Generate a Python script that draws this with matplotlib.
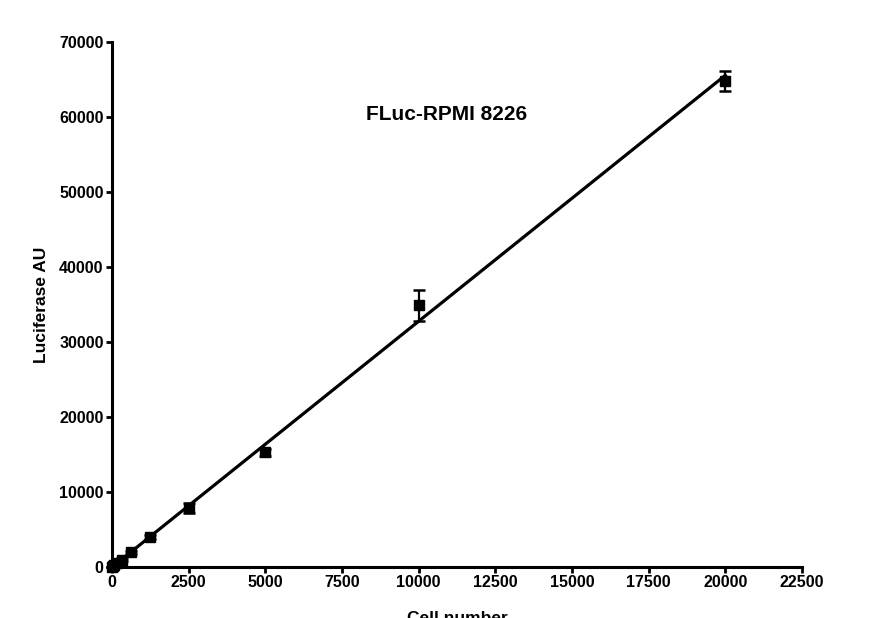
import numpy as np
import matplotlib.pyplot as plt

plt.rcParams['font.family'] = ['Liberation Sans', 'DejaVu Sans']
plt.rcParams['font.weight'] = 'bold'

# cell numbers (two-fold dilutions) and luciferase readings
cells = [0, 39, 78, 156, 312, 625, 1250, 2500, 5000, 10000, 20000]
lum = [0, 120, 250, 500, 1000, 2000, 4000, 7900, 15300, 34900, 64800]
lum_err = [0, 50, 80, 100, 150, 200, 300, 700, 500, 2050, 1300]

x_ticks = [0, 2500, 5000, 7500, 10000, 12500, 15000, 17500, 20000, 22500]
y_ticks = [0, 10000, 20000, 30000, 40000, 50000, 60000, 70000]


def main():
    fig = plt.figure(figsize=(8.7, 6.18), dpi=100)
    ax = fig.add_axes([0.1287, 0.0825, 0.7931, 0.8495])

    # linear regression through the means
    slope, icpt = np.polyfit(cells, lum, 1)
    xfit = np.array([0, 20000])
    ax.plot(xfit, slope * xfit + icpt, color='black', lw=2.3, zorder=2)

    ax.errorbar(cells, lum, yerr=lum_err, fmt='s', color='black', ms=6.5,
                ecolor='black', elinewidth=1.6, capsize=4, capthick=1.8,
                zorder=3, clip_on=False)

    ax.set_xlim(0, 22500)
    ax.set_ylim(0, 70000)
    ax.set_xticks(x_ticks)
    ax.set_yticks(y_ticks)
    ax.set_xticklabels([str(t) for t in x_ticks], fontsize=11.5, fontweight='bold')
    ax.set_yticklabels([str(t) for t in y_ticks], fontsize=11.5, fontweight='bold')

    for s in ['top', 'right']:
        ax.spines[s].set_visible(False)
    for s in ['left', 'bottom']:
        ax.spines[s].set_linewidth(2.2)
    ax.tick_params(direction='out', length=4.5, width=2, pad=1.5, colors='black')

    ax.set_ylabel('Luciferase AU', fontsize=12.5, fontweight='bold', labelpad=7)
    ax.set_xlabel('Cell number', fontsize=12.5, fontweight='bold', labelpad=15)

    ax.text(10925, 60400, 'FLuc-RPMI 8226', fontsize=15, fontweight='bold',
            ha='center', va='center')

    plt.savefig('out.png', dpi=100)


if __name__ == '__main__':
    main()
